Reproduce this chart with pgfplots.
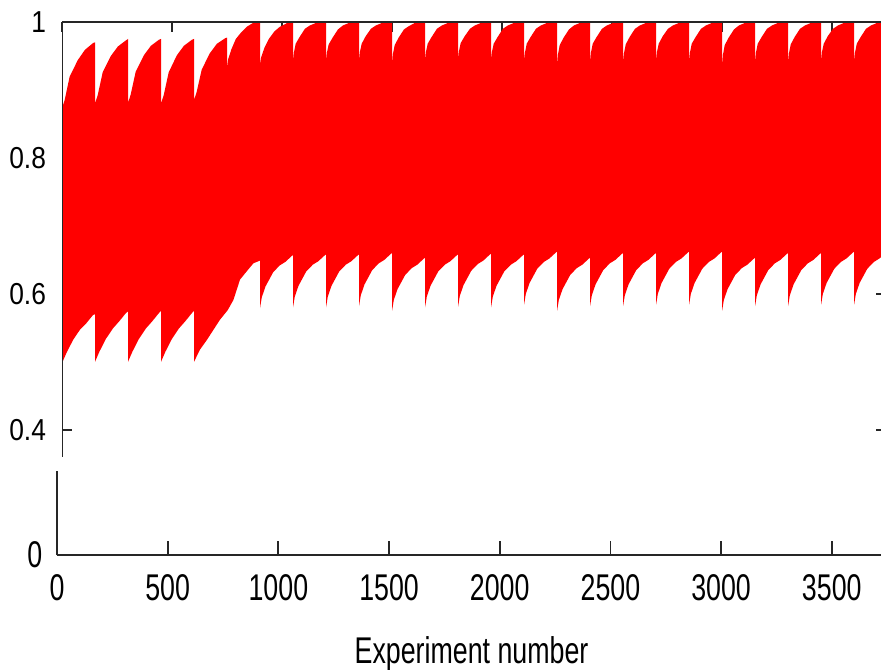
\documentclass[border=0pt]{standalone}
\usepackage{pgfplots}
\pgfplotsset{compat=1.18}
\usepgfplotslibrary{fillbetween}
\usepackage{fontspec}
\setmainfont{Liberation Sans}
\newfontfamily\upfont[FakeStretch=0.87]{Liberation Sans}
\newfontfamily\lowfont[FakeStretch=0.72]{Liberation Sans}
\begin{document}
\begin{tikzpicture}
\pgfplotsset{every axis/.append style={
  /pgf/number format/assume math mode=true, /pgf/number format/1000 sep={},
  scale only axis, anchor=south west, scaled ticks=false}}
% ---------- upper panel ----------
\begin{axis}[at={(31pt,106pt)}, width=412pt, height=217.5pt,
  font=\upfont\fontsize{15.15}{18}\selectfont,
  xmin=0, xmax=3745, ymin=0.36, ymax=1,
  axis line style={draw=none},
  xtick={0,500,...,3500}, xtick pos=right, xticklabel=\empty,
  ytick={0.4,0.6,0.8,1}, ytick pos=both, yticklabel pos=left,
  tick align=inside, major tick length=5pt,
  every tick/.style={black!85, line width=0.9pt},
  yticklabel style={xshift=-4.5pt}]
\addplot[draw=none, mark=none, name path=U] coordinates {
(0,0.873)(12,0.885)(35,0.920)(72,0.944)(104,0.959)(141,0.969)(150,0.970)
(150,0.880)(162,0.892)(185,0.926)(222,0.950)(254,0.964)(291,0.973)(300,0.975)
(300,0.881)(312,0.893)(335,0.927)(372,0.951)(404,0.965)(441,0.974)(450,0.975)
(450,0.880)(462,0.892)(485,0.926)(522,0.951)(554,0.965)(591,0.974)(600,0.975)
(600,0.885)(612,0.897)(635,0.930)(672,0.954)(704,0.968)(741,0.976)(750,0.977)
(750,0.930)(755,0.945)(770,0.960)(790,0.975)(815,0.985)(840,0.993)(865,0.998)(880,1.0)(900,1.0)
(900,0.935)(905,0.948)(920,0.962)(940,0.975)(965,0.986)(990,0.993)(1015,0.997)(1030,1.0)(1050,1.0)
(1050,0.939)(1054,0.955)(1062,0.968)(1080,0.978)(1104,0.990)(1127,0.995)(1150,0.998)(1155,1.0)(1200,1.0)
(1200,0.939)(1204,0.955)(1212,0.967)(1230,0.977)(1254,0.989)(1277,0.995)(1300,0.998)(1305,1.0)(1350,1.0)
(1350,0.939)(1354,0.956)(1362,0.968)(1380,0.979)(1404,0.990)(1427,0.995)(1450,0.998)(1455,1.0)(1500,1.0)
(1500,0.935)(1504,0.953)(1512,0.966)(1530,0.977)(1554,0.989)(1577,0.994)(1600,0.998)(1605,1.0)(1650,1.0)
(1650,0.940)(1654,0.956)(1662,0.968)(1680,0.978)(1704,0.990)(1727,0.995)(1750,0.998)(1755,1.0)(1800,1.0)
(1800,0.943)(1804,0.957)(1812,0.969)(1830,0.979)(1854,0.990)(1877,0.995)(1900,0.998)(1905,1.0)(1950,1.0)
(1950,0.942)(1954,0.956)(1962,0.968)(1980,0.978)(2004,0.990)(2027,0.995)(2050,0.998)(2055,1.0)(2100,1.0)
(2100,0.940)(2104,0.955)(2112,0.968)(2130,0.978)(2154,0.990)(2177,0.995)(2200,0.998)(2205,1.0)(2250,1.0)
(2250,0.933)(2254,0.952)(2262,0.966)(2280,0.977)(2304,0.989)(2327,0.995)(2350,0.998)(2355,1.0)(2400,1.0)
(2400,0.938)(2404,0.955)(2412,0.968)(2430,0.978)(2454,0.990)(2477,0.995)(2500,0.998)(2505,1.0)(2550,1.0)
(2550,0.938)(2554,0.954)(2562,0.967)(2580,0.978)(2604,0.990)(2627,0.995)(2650,0.998)(2655,1.0)(2700,1.0)
(2700,0.940)(2704,0.956)(2712,0.968)(2730,0.979)(2754,0.990)(2777,0.995)(2800,0.998)(2805,1.0)(2850,1.0)
(2850,0.940)(2854,0.955)(2862,0.968)(2880,0.978)(2904,0.990)(2927,0.995)(2950,0.998)(2955,1.0)(3000,1.0)
(3000,0.933)(3004,0.952)(3012,0.966)(3030,0.977)(3054,0.989)(3077,0.995)(3100,0.998)(3105,1.0)(3150,1.0)
(3150,0.938)(3154,0.955)(3162,0.968)(3180,0.978)(3204,0.990)(3227,0.995)(3250,0.998)(3255,1.0)(3300,1.0)
(3300,0.938)(3304,0.954)(3312,0.967)(3330,0.978)(3354,0.990)(3377,0.995)(3400,0.998)(3405,1.0)(3450,1.0)
(3450,0.940)(3454,0.956)(3462,0.968)(3480,0.979)(3504,0.990)(3527,0.995)(3550,0.998)(3555,1.0)(3600,1.0)
(3600,0.940)(3604,0.955)(3612,0.968)(3630,0.978)(3654,0.990)(3677,0.995)(3700,0.998)(3705,1.0)(3750,1.0)
};
\addplot[draw=none, mark=none, name path=L] coordinates {
(0,0.498)(20,0.513)(50,0.532)(81,0.547)(111,0.557)(141,0.569)(150,0.570)
(150,0.500)(170,0.515)(200,0.534)(231,0.549)(261,0.560)(291,0.572)(300,0.574)
(300,0.500)(320,0.515)(350,0.534)(381,0.549)(411,0.560)(441,0.572)(450,0.575)
(450,0.500)(470,0.515)(500,0.534)(531,0.549)(561,0.560)(591,0.572)(600,0.575)
(600,0.500)(627,0.518)(658,0.532)(688,0.547)(718,0.562)(753,0.576)(779,0.591)(809,0.621)(839,0.633)(870,0.645)(900,0.649)
(900,0.579)(908,0.595)(925,0.611)(940,0.620)(960,0.632)(990,0.642)(1015,0.647)(1045,0.656)(1050,0.657)
(1050,0.580)(1058,0.596)(1075,0.612)(1090,0.621)(1110,0.633)(1140,0.643)(1165,0.648)(1195,0.657)(1200,0.658)
(1200,0.580)(1208,0.596)(1225,0.612)(1240,0.621)(1260,0.633)(1290,0.643)(1315,0.648)(1345,0.657)(1350,0.658)
(1350,0.582)(1358,0.598)(1375,0.614)(1390,0.623)(1410,0.635)(1440,0.645)(1465,0.650)(1495,0.659)(1500,0.660)
(1500,0.575)(1508,0.591)(1525,0.607)(1540,0.616)(1560,0.628)(1590,0.638)(1615,0.643)(1645,0.652)(1650,0.653)
(1650,0.580)(1658,0.596)(1675,0.612)(1690,0.621)(1710,0.633)(1740,0.643)(1765,0.648)(1795,0.657)(1800,0.658)
(1800,0.581)(1808,0.597)(1825,0.613)(1840,0.622)(1860,0.634)(1890,0.644)(1915,0.649)(1945,0.658)(1950,0.659)
(1950,0.580)(1958,0.596)(1975,0.612)(1990,0.621)(2010,0.633)(2040,0.643)(2065,0.648)(2095,0.657)(2100,0.658)
(2100,0.584)(2108,0.600)(2125,0.616)(2140,0.625)(2160,0.637)(2190,0.647)(2215,0.652)(2245,0.661)(2250,0.662)
(2250,0.575)(2258,0.591)(2275,0.607)(2290,0.616)(2310,0.628)(2340,0.638)(2365,0.643)(2395,0.652)(2400,0.653)
(2400,0.582)(2408,0.598)(2425,0.614)(2440,0.623)(2460,0.635)(2490,0.645)(2515,0.650)(2545,0.659)(2550,0.660)
(2550,0.582)(2558,0.598)(2575,0.614)(2590,0.623)(2610,0.635)(2640,0.645)(2665,0.650)(2695,0.659)(2700,0.660)
(2700,0.584)(2708,0.600)(2725,0.616)(2740,0.625)(2760,0.637)(2790,0.647)(2815,0.652)(2845,0.661)(2850,0.662)
(2850,0.584)(2858,0.600)(2875,0.616)(2890,0.625)(2910,0.637)(2940,0.647)(2965,0.652)(2995,0.661)(3000,0.662)
(3000,0.575)(3008,0.591)(3025,0.607)(3040,0.616)(3060,0.628)(3090,0.638)(3115,0.643)(3145,0.652)(3150,0.653)
(3150,0.582)(3158,0.598)(3175,0.614)(3190,0.623)(3210,0.635)(3240,0.645)(3265,0.650)(3295,0.659)(3300,0.660)
(3300,0.582)(3308,0.598)(3325,0.614)(3340,0.623)(3360,0.635)(3390,0.645)(3415,0.650)(3445,0.659)(3450,0.660)
(3450,0.584)(3458,0.600)(3475,0.616)(3490,0.625)(3510,0.637)(3540,0.647)(3565,0.652)(3595,0.661)(3600,0.662)
(3600,0.584)(3608,0.600)(3625,0.616)(3640,0.625)(3660,0.637)(3690,0.647)(3715,0.652)(3745,0.661)(3750,0.662)
};
\addplot[fill=red, draw=none] fill between[of=U and L];
\draw[black!85, line width=0.9pt] (rel axis cs:0,0) -- (rel axis cs:0,1) -- (rel axis cs:1,1) -- (rel axis cs:1,0);
\end{axis}
% ---------- lower panel ----------
\begin{axis}[at={(28.5pt,57pt)}, width=414.5pt, height=42pt,
  font=\lowfont\fontsize{18.6}{22}\selectfont, clip=false,
  xmin=0, xmax=3745, ymin=0, ymax=0.3,
  axis x line=bottom, axis y line=left,
  axis line style={-, black!85, line width=0.9pt},
  xtick={0,500,...,3500}, ytick={0},
  tick align=inside, major tick length=7pt,
  every tick/.style={black!85, line width=0.9pt},
  xticklabel style={yshift=-6.3pt}, yticklabel style={xshift=-3.8pt}]
\addplot[draw=none, mark=none] coordinates {(0,0)(3745,0)};
\node[anchor=base, yshift=-54pt] at (rel axis cs:0.5,0) {Experiment number};
\end{axis}
\pgfresetboundingbox
\useasboundingbox (0,0) rectangle (440.5pt,334.5pt);
\end{tikzpicture}
\end{document}
